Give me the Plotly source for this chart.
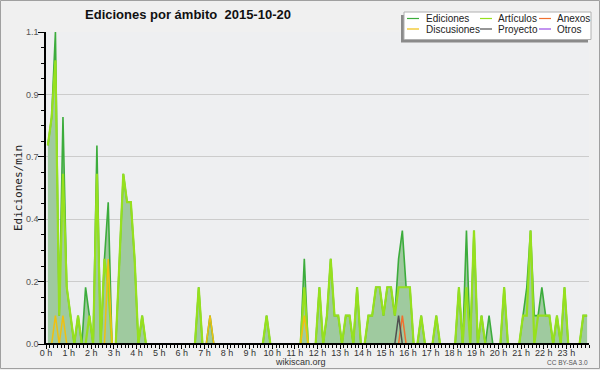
import plotly.graph_objects as go

# ---------------- data (10-minute bins, edits per minute) ----------------
hours = list(range(24))
hour_labels = [f"{h} h" for h in hours]
bin_minutes = 10

ediciones = [
    0.7, 0.8, 1.1, 0.1, 0.8, 0.2,   # 0 h
    0.1, 0.0, 0.1, 0.0, 0.2, 0.1,   # 1 h
    0.0, 0.7, 0.0, 0.3, 0.5, 0.0,   # 2 h
    0.0, 0.3, 0.6, 0.5, 0.5, 0.3,   # 3 h
    0.0, 0.1, 0.0, 0.0, 0.0, 0.0,   # 4 h
    0.0, 0.0, 0.0, 0.0, 0.0, 0.0,   # 5 h
    0.0, 0.0, 0.0, 0.0, 0.2, 0.0,   # 6 h
    0.0, 0.1, 0.0, 0.0, 0.0, 0.0,   # 7 h
    0.0, 0.0, 0.0, 0.0, 0.0, 0.0,   # 8 h
    0.0, 0.0, 0.0, 0.0, 0.1, 0.0,   # 9 h
    0.0, 0.0, 0.0, 0.0, 0.0, 0.0,   # 10 h
    0.0, 0.0, 0.3, 0.0, 0.0, 0.0,   # 11 h
    0.2, 0.0, 0.1, 0.3, 0.1, 0.1,   # 12 h
    0.0, 0.1, 0.1, 0.0, 0.2, 0.0,   # 13 h
    0.0, 0.1, 0.1, 0.2, 0.2, 0.1,   # 14 h
    0.2, 0.2, 0.1, 0.3, 0.4, 0.2,   # 15 h
    0.2, 0.0, 0.0, 0.1, 0.0, 0.0,   # 16 h
    0.0, 0.1, 0.0, 0.0, 0.0, 0.0,   # 17 h
    0.0, 0.2, 0.0, 0.4, 0.0, 0.4,   # 18 h
    0.0, 0.1, 0.0, 0.1, 0.0, 0.0,   # 19 h
    0.0, 0.2, 0.0, 0.0, 0.0, 0.0,   # 20 h
    0.1, 0.2, 0.4, 0.1, 0.1, 0.2,   # 21 h
    0.1, 0.1, 0.0, 0.1, 0.0, 0.2,   # 22 h
    0.0, 0.0, 0.0, 0.0, 0.1, 0.1,   # 23 h
]

articulos = [
    0.7, 0.8, 1.0, 0.1, 0.6, 0.2,   # 0 h
    0.1, 0.0, 0.1, 0.0, 0.0, 0.1,   # 1 h
    0.0, 0.6, 0.0, 0.3, 0.2, 0.0,   # 2 h
    0.0, 0.3, 0.6, 0.5, 0.5, 0.3,   # 3 h
    0.0, 0.1, 0.0, 0.0, 0.0, 0.0,   # 4 h
    0.0, 0.0, 0.0, 0.0, 0.0, 0.0,   # 5 h
    0.0, 0.0, 0.0, 0.0, 0.2, 0.0,   # 6 h
    0.0, 0.0, 0.0, 0.0, 0.0, 0.0,   # 7 h
    0.0, 0.0, 0.0, 0.0, 0.0, 0.0,   # 8 h
    0.0, 0.0, 0.0, 0.0, 0.1, 0.0,   # 9 h
    0.0, 0.0, 0.0, 0.0, 0.0, 0.0,   # 10 h
    0.0, 0.0, 0.2, 0.0, 0.0, 0.0,   # 11 h
    0.2, 0.0, 0.1, 0.3, 0.1, 0.1,   # 12 h
    0.0, 0.1, 0.1, 0.0, 0.2, 0.0,   # 13 h
    0.0, 0.1, 0.1, 0.2, 0.2, 0.1,   # 14 h
    0.2, 0.2, 0.1, 0.2, 0.2, 0.2,   # 15 h
    0.2, 0.0, 0.0, 0.1, 0.0, 0.0,   # 16 h
    0.0, 0.1, 0.0, 0.0, 0.0, 0.0,   # 17 h
    0.0, 0.2, 0.0, 0.2, 0.0, 0.4,   # 18 h
    0.0, 0.1, 0.0, 0.0, 0.0, 0.0,   # 19 h
    0.0, 0.2, 0.0, 0.0, 0.0, 0.0,   # 20 h
    0.1, 0.1, 0.4, 0.0, 0.1, 0.1,   # 21 h
    0.1, 0.1, 0.0, 0.1, 0.0, 0.2,   # 22 h
    0.0, 0.0, 0.0, 0.0, 0.1, 0.1,   # 23 h
]

# the smaller series are zero except in a few bins: {bin index: value}
discusiones_points = {2: 0.1, 4: 0.1, 16: 0.3, 43: 0.1, 68: 0.1}
anexos_points = {94: 0.1}
proyecto_points = {93: 0.1}
otros_points = {}


def series_from(points, n=len(ediciones)):
    s = [0.0] * n
    for k, v in points.items():
        s[k] = v
    return s


discusiones = series_from(discusiones_points)
anexos = series_from(anexos_points)
proyecto = series_from(proyecto_points)
otros = series_from(otros_points)

# x position of each bin = its centre, in minutes since midnight
x_minutes = [i * bin_minutes + bin_minutes / 2 for i in range(len(ediciones))]

# ---------------- styling ----------------
W, H = 600, 370
ML, MR, MT, MB = 46, 11, 32, 26
PW, PH = W - ML - MR, H - MT - MB


def fx(px):
    return (px - ML) / PW


def fy(py):
    return (H - MB - py) / PH


C_ED = "#3cac3c"
C_FILL = "#9fca9f"
C_ART = "#96e01e"
C_ANX = "#f07030"
C_DIS = "#f0c010"
C_PRO = "#505050"
C_OTR = "#9b4de6"

fig = go.Figure()
fig.add_trace(go.Scatter(x=x_minutes, y=ediciones, name="Ediciones", mode="lines",
                         line=dict(color=C_ED, width=1.6), fill="tozeroy",
                         fillcolor=C_FILL, showlegend=False))
fig.add_trace(go.Scatter(x=x_minutes, y=articulos, name="Artículos", mode="lines",
                         line=dict(color=C_ART, width=2.2), showlegend=False))
fig.add_trace(go.Scatter(x=x_minutes, y=discusiones, name="Discusiones", mode="lines",
                         line=dict(color=C_DIS, width=1.5), showlegend=False))
fig.add_trace(go.Scatter(x=x_minutes, y=anexos, name="Anexos", mode="lines",
                         line=dict(color=C_ANX, width=1.5), showlegend=False))
fig.add_trace(go.Scatter(x=x_minutes, y=proyecto, name="Proyecto", mode="lines",
                         line=dict(color=C_PRO, width=1.5), showlegend=False))
fig.add_trace(go.Scatter(x=x_minutes, y=otros, name="Otros", mode="lines",
                         line=dict(color=C_OTR, width=1.5), showlegend=False))

ymax = 1.1
y_major = [ymax * k / 5 for k in range(6)]
y_major_text = [f"{v:.1f}" for v in y_major]
y_minor = [ymax * k / 20 for k in range(21)]

FONT = "Liberation Sans, Arial, sans-serif"

fig.update_layout(
    template="none",
    width=W, height=H,
    margin=dict(l=ML, r=MR, t=MT, b=MB, pad=0),
    paper_bgcolor="#f0f0f0",
    plot_bgcolor="#eeeff1",
    showlegend=False,
    title=dict(text="Ediciones por ámbito\u00a0 2015-10-20",
               font=dict(family=FONT, size=13, color="#111", weight="bold"),
               x=188 / W, xref="container", xanchor="center",
               y=1 - 14 / H, yref="container", yanchor="middle"),
    xaxis=dict(range=[0, 24 * 60], tickmode="array",
               tickvals=[h * 60 for h in hours], ticktext=hour_labels,
               ticks="outside", ticklen=4, tickwidth=1, tickcolor="#000",
               ticklabelstandoff=-4,
               showline=True, linecolor="#000", linewidth=1,
               showgrid=False, zeroline=False,
               tickfont=dict(family=FONT, size=9, color="#333"),
               minor=dict(ticks="outside", dtick=bin_minutes, tick0=0,
                          ticklen=3, tickwidth=1, tickcolor="#000", showgrid=False)),
    yaxis=dict(range=[0, ymax], tickmode="array", tickvals=y_major,
               ticktext=y_major_text,
               ticks="outside", ticklen=6, tickwidth=1, tickcolor="#000",
               ticklabelstandoff=-2,
               showline=True, linecolor="#000", linewidth=1.5,
               showgrid=True, gridcolor="#cccccc", gridwidth=1, zeroline=False,
               tickfont=dict(family=FONT, size=9, color="#555"),
               minor=dict(ticks="outside", tickmode="array", tickvals=y_minor,
                          ticklen=3, tickwidth=1, tickcolor="#000", showgrid=False),
               title=dict(text="Ediciones/min", standoff=1,
                          font=dict(family="DejaVu Sans Mono, monospace", size=11,
                                    color="#222"))),
)

shapes = []
# baseline drawn above traces (zero-valued segments sit under the axis line)
shapes.append(dict(type="line", xref="x", yref="y", x0=0, x1=24 * 60, y0=0, y1=0,
                   line=dict(color="#000", width=2), layer="above"))
# outer frame of the image
shapes.append(dict(type="rect", xref="paper", yref="paper",
                   x0=fx(0.5), x1=fx(599.5), y0=fy(0.5), y1=fy(368.5),
                   line=dict(color="#a0a0a0", width=1), fillcolor="rgba(0,0,0,0)",
                   layer="above"))
# legend box with shadow
shapes.append(dict(type="rect", xref="paper", yref="paper",
                   x0=fx(401), x1=fx(588), y0=fy(42.5), y1=fy(15),
                   line=dict(width=0), fillcolor="#8a8a8a", layer="above"))
shapes.append(dict(type="rect", xref="paper", yref="paper",
                   x0=fx(404), x1=fx(591), y0=fy(39.5), y1=fy(12),
                   line=dict(color="#b0b0b0", width=1), fillcolor="#ffffff", layer="above"))

legend_items = [
    ("Ediciones", C_ED, 0, 0), ("Artículos", C_ART, 1, 0), ("Anexos", C_ANX, 2, 0),
    ("Discusiones", C_DIS, 0, 1), ("Proyecto", C_PRO, 1, 1), ("Otros", C_OTR, 2, 1),
]
col_sample_x = [407, 480, 539]
col_text_x = [424, 496, 555]
row_y = [18.5, 29]
sample_len = 12

annotations = []
for label, color, c, r in legend_items:
    shapes.append(dict(type="line", xref="paper", yref="paper",
                       x0=fx(col_sample_x[c]), x1=fx(col_sample_x[c] + sample_len),
                       y0=fy(row_y[r]), y1=fy(row_y[r]),
                       line=dict(color=color, width=1.2), layer="above"))
    annotations.append(dict(text=label, xref="paper", yref="paper",
                            x=fx(col_text_x[c]), y=fy(row_y[r]),
                            xanchor="left", yanchor="middle", showarrow=False,
                            font=dict(family=FONT, size=10, color="#222")))

annotations.append(dict(text="wikiscan.org", xref="paper", yref="paper",
                        x=fx(300), y=fy(361.5), xanchor="center", yanchor="middle",
                        showarrow=False, font=dict(family=FONT, size=9, color="#333")))
annotations.append(dict(text="CC BY-SA 3.0", xref="paper", yref="paper",
                        x=fx(590), y=fy(362), xanchor="right", yanchor="middle",
                        showarrow=False, font=dict(family=FONT, size=6.5, color="#555")))

fig.update_layout(shapes=shapes, annotations=annotations)

fig.write_html("out.html",
               config={"displayModeBar": False},
               post_script="document.body.style.margin='0';"
                           "document.body.style.overflow='hidden';")
